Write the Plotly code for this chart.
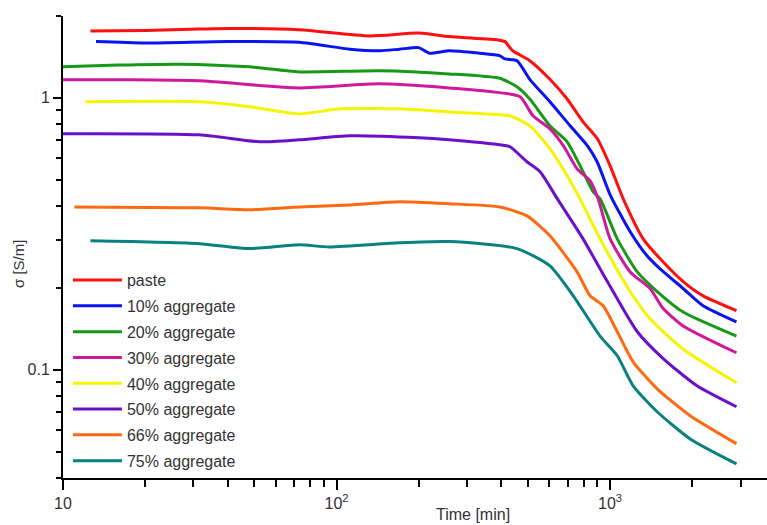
import plotly.graph_objects as go

# ---- data (time in min, conductivity in S/m) ----
names = ["paste", "10% aggregate", "20% aggregate", "30% aggregate",
         "40% aggregate", "50% aggregate", "66% aggregate", "75% aggregate"]
colors = ["#ff1010", "#0a14f0", "#169a16", "#d0189a",
          "#f5f500", "#6a10c8", "#ff6a10", "#0a8080"]

t_paste = [12.6, 20, 31.5, 41, 73, 132, 200, 258, 395, 413, 441, 509, 603, 697, 797, 897, 1001, 1118, 1322, 1565, 1851, 2190, 2900]
s_paste = [1.76, 1.77, 1.79, 1.80, 1.78, 1.69, 1.73, 1.68, 1.63, 1.61, 1.49, 1.37, 1.17, 0.99, 0.816, 0.71, 0.562, 0.425, 0.303, 0.249, 0.211, 0.187, 0.165]

t_10 = [13.2, 20, 40, 73, 112, 144, 170, 200, 218, 258, 333, 395, 413, 457, 509, 603, 715, 826, 897, 1001, 1185, 1368, 1525, 1851, 2190, 2900]
s_10 = [1.61, 1.59, 1.61, 1.60, 1.51, 1.49, 1.51, 1.53, 1.46, 1.49, 1.46, 1.43, 1.39, 1.37, 1.17, 0.967, 0.789, 0.667, 0.582, 0.44, 0.322, 0.262, 0.235, 0.199, 0.172, 0.150]

t_20 = [10, 16, 26.6, 48, 73, 143, 258, 395, 457, 509, 603, 697, 797, 868, 920, 1063, 1258, 1487, 1851, 2900]
s_20 = [1.30, 1.32, 1.33, 1.30, 1.246, 1.257, 1.225, 1.18, 1.098, 0.99, 0.789, 0.689, 0.535, 0.451, 0.425, 0.303, 0.229, 0.194, 0.163, 0.133]

t_30 = [10, 17.6, 31.5, 73, 143, 258, 364, 469, 523, 603, 675, 758, 846, 905, 1001, 1185, 1401, 1565, 1851, 2900]
s_30 = [1.165, 1.165, 1.155, 1.088, 1.126, 1.088, 1.055, 1.009, 0.859, 0.769, 0.667, 0.548, 0.495, 0.425, 0.303, 0.229, 0.199, 0.168, 0.145, 0.1155]

t_40 = [12.1, 31.5, 48, 73, 103, 170, 258, 395, 431, 509, 603, 697, 777, 920, 1185, 1401, 1851, 2900]
s_40 = [0.967, 0.967, 0.927, 0.873, 0.911, 0.911, 0.888, 0.866, 0.859, 0.789, 0.65, 0.517, 0.425, 0.303, 0.194, 0.154, 0.119, 0.0896]

t_50 = [10, 31.5, 52.5, 73, 112, 200, 258, 395, 431, 497, 555, 642, 797, 978, 1258, 1565, 2080, 2900]
s_50 = [0.738, 0.731, 0.689, 0.701, 0.725, 0.713, 0.701, 0.672, 0.661, 0.582, 0.535, 0.425, 0.303, 0.211, 0.138, 0.110, 0.0873, 0.0731]

t_66 = [11, 31.5, 48, 73, 112, 170, 258, 395, 497, 603, 758, 846, 944, 1063, 1215, 1487, 1963, 2900]
s_66 = [0.397, 0.394, 0.388, 0.397, 0.404, 0.415, 0.408, 0.397, 0.368, 0.311, 0.229, 0.187, 0.172, 0.138, 0.107, 0.0851, 0.0678, 0.0535]

t_75 = [12.6, 31.5, 48, 73, 94, 170, 258, 457, 603, 734, 920, 1063, 1215, 1487, 1963, 2900]
s_75 = [0.298, 0.291, 0.279, 0.288, 0.283, 0.293, 0.296, 0.279, 0.241, 0.187, 0.133, 0.1126, 0.0873, 0.0701, 0.0557, 0.0451]

times = [t_paste, t_10, t_20, t_30, t_40, t_50, t_66, t_75]
sigmas = [s_paste, s_10, s_20, s_30, s_40, s_50, s_66, s_75]

x_tickvals = [10, 100, 1000]
x_ticktext = ["10", "10<sup>2</sup>", "10<sup>3</sup>"]
x_minor = [20, 30, 40, 50, 60, 70, 80, 90, 200, 300, 400, 500, 600, 700, 800, 900, 2000, 3000]
y_tickvals = [0.1, 1]
y_ticktext = ["0.1", "1"]
y_minor = [0.04, 0.05, 0.06, 0.07, 0.08, 0.09, 0.2, 0.3, 0.4, 0.5, 0.6, 0.7, 0.8, 0.9, 2]

FONT = "Liberation Sans, Arial, sans-serif"
TXT = "#333333"

fig = go.Figure()
for i, (n, c, t, s) in enumerate(zip(names, colors, times, sigmas)):
    fig.add_trace(go.Scatter(
        x=t, y=s, name=n, mode="lines", legendgroup=f"g{i}",
        line=dict(color=c, width=3, shape="spline", smoothing=0.6),
    ))

axis_common = dict(
    type="log", showline=True, linecolor="black", linewidth=2,
    ticks="outside", tickcolor="black", tickwidth=2,
    showgrid=False, zeroline=False,
    tickfont=dict(family=FONT, size=16, color=TXT),
)

fig.update_xaxes(
    **axis_common, range=[1, 3.574], ticklen=10,
    tickvals=x_tickvals, ticktext=x_ticktext,
    minor=dict(tickvals=x_minor, ticks="outside", ticklen=7, tickwidth=2, tickcolor="black", showgrid=False),
)
fig.update_yaxes(
    **axis_common, range=[-1.398, 0.301], ticklen=8,
    tickvals=y_tickvals, ticktext=y_ticktext,
    minor=dict(tickvals=y_minor, ticks="outside", ticklen=5, tickwidth=2, tickcolor="black", showgrid=False),
)

fig.update_layout(
    width=767, height=525,
    margin=dict(l=63, r=0, t=16, b=47),
    paper_bgcolor="white", plot_bgcolor="white",
    font=dict(family=FONT, color=TXT),
    legend=dict(
        x=0.007, y=0.465, xanchor="left", yanchor="top",
        font=dict(family=FONT, size=16, color=TXT),
        bgcolor="rgba(0,0,0,0)", borderwidth=0,
        itemwidth=49, tracegroupgap=2, traceorder="grouped",
    ),
    annotations=[
        dict(text="Time [min]", xref="paper", yref="paper", x=0.582, y=-0.080,
             xanchor="center", yanchor="middle", showarrow=False,
             font=dict(family=FONT, size=16, color=TXT)),
        dict(text="σ [S/m]", xref="paper", yref="paper", x=-0.064, y=0.463,
             xanchor="center", yanchor="middle", showarrow=False, textangle=-90,
             font=dict(family=FONT, size=15, color=TXT)),
    ],
)

fig.write_html("out.html")
